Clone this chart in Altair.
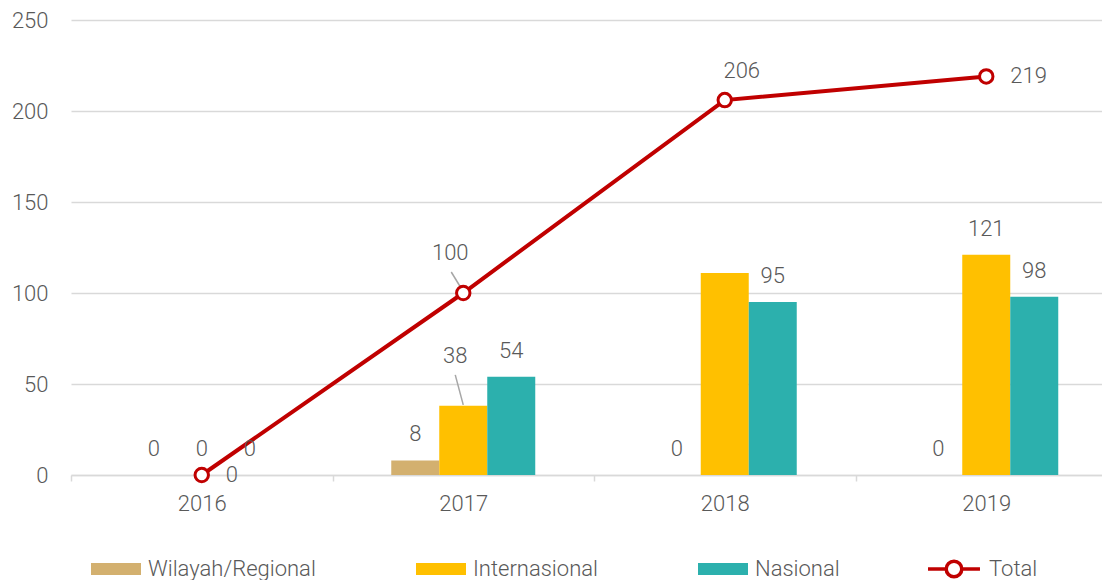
import altair as alt
import pandas as pd

years = ["2016", "2017", "2018", "2019"]
series_names = ["Wilayah/Regional", "Internasional", "Nasional"]
regional = [0, 8, 0, 0]
internasional = [0, 38, 111, 121]
nasional = [0, 54, 95, 98]
total = [0, 100, 206, 219]
bar_colors = ["#d3b06f", "#ffc000", "#2cb0ad"]
total_color = "#c00000"
y_ticks = [0, 50, 100, 150, 200, 250]

rows = []
for i, yr in enumerate(years):
    for s, vals in zip(series_names, [regional, internasional, nasional]):
        rows.append({"year": yr, "series": s, "value": vals[i]})
bars_df = pd.DataFrame(rows)
total_df = pd.DataFrame({"year": years, "series": ["Total"] * len(years), "value": total})

FONT = "Roboto"
GREY = "#595959"
WEIGHT = 300

x = alt.X(
    "year:N", sort=years,
    scale=alt.Scale(range=[0, 1046], paddingInner=0, paddingOuter=0),
    axis=alt.Axis(title=None, labelAngle=0, domainColor="#d9d9d9", domainWidth=1.5,
                  tickColor="#d9d9d9", tickWidth=1.5, tickSize=6, tickBand="extent",
                  labelPadding=12, labelFontSize=22, labelColor=GREY, labelFont=FONT,
                  labelFontWeight=WEIGHT, grid=False),
)
y = alt.Y(
    "value:Q",
    scale=alt.Scale(domain=[0, 250], nice=False),
    axis=alt.Axis(title=None, values=y_ticks, domain=False, ticks=False, labelPadding=23,
                  gridColor="#d9d9d9", gridWidth=1.5, labelFontSize=22, labelColor=GREY,
                  labelFont=FONT, labelFontWeight=WEIGHT),
)
xoff = alt.XOffset("series:N", sort=series_names,
                   scale=alt.Scale(domain=series_names, paddingInner=0, paddingOuter=0,
                                   range=[58.75, 202.75]))

rect_path = "M-1,-0.24H1V0.24H-1Z"
line_path = "M-1,0H-0.3M0.3,0H1M-0.3,0A0.3,0.3 0 1,1 0.3,0A0.3,0.3 0 1,1 -0.3,0Z"

bar_legend = alt.Legend(
    title=None, orient="none", legendX=20, legendY=524, direction="horizontal",
    labelFont=FONT, labelFontSize=22, labelColor=GREY, labelOffset=7, labelLimit=400,
    labelFontWeight=WEIGHT,
    columnPadding=100, symbolSize=2500, padding=0, symbolType=rect_path,
    symbolStrokeWidth=0, symbolOpacity=1,
)
total_legend = alt.Legend(
    title=None, orient="none", legendX=855, legendY=521, direction="horizontal",
    labelFont=FONT, labelFontSize=22, labelColor=GREY, labelOffset=7, labelLimit=400,
    labelFontWeight=WEIGHT,
    symbolSize=2700, padding=0, symbolType=line_path, symbolFillColor="white",
    symbolStrokeColor=total_color, symbolStrokeWidth=3.5, symbolOpacity=1,
)
color = alt.Color("series:N", scale=alt.Scale(domain=series_names, range=bar_colors),
                  legend=bar_legend)
stroke = alt.Stroke("series:N", scale=alt.Scale(domain=["Total"], range=[total_color]),
                    legend=total_legend)

bars = alt.Chart(bars_df).mark_bar().encode(x=x, xOffset=xoff, y=y, color=color)

text_style = dict(font=FONT, fontSize=22, color=GREY, baseline="middle", fontWeight=WEIGHT)

bar_labels = alt.Chart(bars_df).transform_filter(
    "datum.series != 'Internasional' || (datum.year != '2017' && datum.year != '2018')"
).mark_text(dy=-26, **text_style).encode(x=x, xOffset=xoff, y=y, text="value:Q")

label_38 = alt.Chart(bars_df).transform_filter(
    "datum.series == 'Internasional' && datum.year == '2017'"
).mark_text(dx=-8, dy=-50, **text_style).encode(x=x, xOffset=xoff, y=y, text="value:Q")

leader_38 = alt.Chart(bars_df).transform_filter(
    "datum.series == 'Internasional' && datum.year == '2017'"
).mark_rule(color="#a6a6a6", strokeWidth=1.5, xOffset=-8, yOffset=-31, x2Offset=0, y2Offset=-1).encode(
    x=alt.X("year:N", sort=years, bandPosition=0.5),
    x2=alt.X2("year", bandPosition=0.5),
    y="value:Q", y2="value",
)

leader_100 = alt.Chart(total_df).transform_filter("datum.year == '2017'").mark_rule(
    color="#a6a6a6", strokeWidth=1.5, xOffset=-12, yOffset=-21, x2Offset=-1, y2Offset=-3
).encode(
    x=alt.X("year:N", sort=years, bandPosition=0.5),
    x2=alt.X2("year", bandPosition=0.5),
    y="value:Q", y2="value",
)

line = alt.Chart(total_df).mark_line(strokeWidth=4).encode(x=x, y=y, stroke=stroke)
points = alt.Chart(total_df).mark_point(filled=False, fill="white", size=180, strokeWidth=3,
                                        opacity=1, fillOpacity=1).encode(x=x, y=y, stroke=stroke)

tot_right = alt.Chart(total_df).transform_filter("datum.year == '2016' || datum.year == '2019'").mark_text(
    dx=24, align="left", **text_style).encode(x=x, y=y, text="value:Q")
tot_2017 = alt.Chart(total_df).transform_filter("datum.year == '2017'").mark_text(
    dx=-13, dy=-40, **text_style).encode(x=x, y=y, text="value:Q")
tot_2018 = alt.Chart(total_df).transform_filter("datum.year == '2018'").mark_text(
    dx=17, dy=-29, **text_style).encode(x=x, y=y, text="value:Q")

chart = alt.layer(
    bars, leader_38, leader_100, line, points,
    bar_labels, label_38, tot_right, tot_2017, tot_2018,
).properties(
    width=1031, height=455,
    autosize=alt.AutoSizeParams(type="none"),
    padding={"left": 63, "top": 12, "right": 0, "bottom": 105},
).configure_view(stroke=None)

chart.save("out.html", embed_options={"renderer": "svg", "actions": False})
